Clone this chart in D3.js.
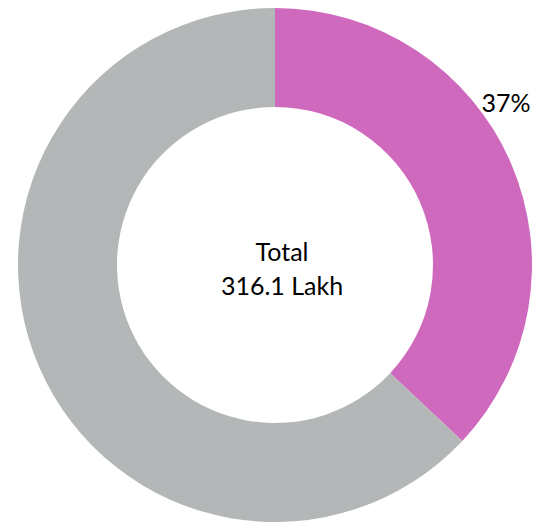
<!DOCTYPE html>
<html>
<head>
<meta charset="utf-8">
<script src="https://cdn.jsdelivr.net/npm/d3@7"></script>
<style>
  body { margin: 0; background: #fff; }
  svg text { font-family: Lato, "Noto Sans", sans-serif; fill: #000; }
</style>
</head>
<body>
<svg id="chart"></svg>
<script>
let w = 533;
let h = 522;

// share of total (in %)
let categories = ["Selected", "Other"];
let shares = [37, 63];
let colors = ["#cf69bd", "#b4b7b7"];
let centerLines = ["Total", "316.1 Lakh"];

let cx = 275, cy = 265;
let outerR = 257, innerR = 158;

let svg = d3.select("#chart")
  .attr("width", w)
  .attr("height", h);

let pie = d3.pie().sort(null).value((d) => d);
let arc = d3.arc().innerRadius(innerR).outerRadius(outerR);

let g = svg.append("g").attr("transform", `translate(${cx},${cy})`);

let arcs = pie(shares);

g.selectAll("path")
  .data(arcs)
  .enter()
  .append("path")
  .attr("d", arc)
  .attr("fill", (d, i) => colors[i]);

// percent label outside the pink slice
let first = arcs[0];
let labelAngle = first.startAngle + (first.endAngle - first.startAngle) * 0.41;
let labelR = outerR + 27;
g.append("text")
  .attr("x", Math.sin(labelAngle) * labelR - 25)
  .attr("y", -Math.cos(labelAngle) * labelR + 11)
  .attr("font-size", 25)
  .text(shares[0] + "%");

// center text
g.selectAll(".center")
  .data(centerLines)
  .enter()
  .append("text")
  .attr("class", "center")
  .attr("x", 7)
  .attr("y", (d, i) => -4 + i * 34)
  .attr("text-anchor", "middle")
  .attr("font-size", 25)
  .text((d) => d);
</script>
</body>
</html>
